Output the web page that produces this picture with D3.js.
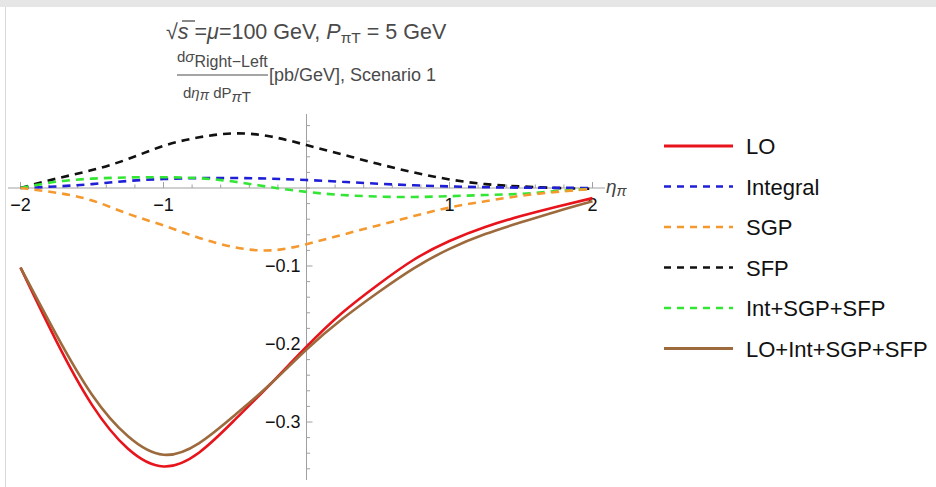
<!DOCTYPE html>
<html>
<head>
<meta charset="utf-8">
<script src="https://cdn.jsdelivr.net/npm/d3@7"></script>
<style>
  html, body { margin: 0; padding: 0; background: #fff; }
  svg { display: block; }
  text { font-family: "Liberation Sans", Arial, Helvetica, sans-serif; }
</style>
</head>
<body>
<svg id="chart" width="936" height="487"></svg>
<script>
// Rapidity grid (eta_pi)
const eta = [-2, -1.75, -1.5, -1.25, -1, -0.75, -0.5, -0.25, 0, 0.25, 0.5, 0.75, 1, 1.25, 1.5, 1.75, 2];

// dσ(Right−Left)/dη dP [pb/GeV] per contribution
const lo        = [-0.102, -0.196, -0.278, -0.334, -0.357, -0.339, -0.297, -0.251, -0.2035, -0.160, -0.124, -0.092, -0.068, -0.050, -0.036, -0.024, -0.013];
const integral  = [0, 0.002, 0.005, 0.009, 0.0115, 0.0127, 0.0128, 0.012, 0.0102, 0.008, 0.0055, 0.0035, 0.002, 0.001, 0.0005, 0.0002, 0];
const sgp       = [0, -0.006, -0.016, -0.033, -0.048, -0.064, -0.076, -0.080, -0.072, -0.060, -0.048, -0.036, -0.025, -0.017, -0.010, -0.005, -0.001];
const sfp       = [0, 0.012, 0.023, 0.037, 0.054, 0.065, 0.070, 0.066, 0.055, 0.043, 0.031, 0.020, 0.011, 0.005, 0.002, 0.000, -0.001];
const intSgpSfp = [0, 0.008, 0.012, 0.0135, 0.0138, 0.0125, 0.008, 0.001, -0.005, -0.009, -0.011, -0.0115, -0.0105, -0.009, -0.0075, -0.004, -0.001];
const total     = [-0.102, -0.188, -0.265, -0.318, -0.342, -0.327, -0.291, -0.251, -0.207, -0.168, -0.134, -0.103, -0.078, -0.059, -0.044, -0.030, -0.017];

const xTicks = [-2, -1, 1, 2];
const yTicks = [-0.1, -0.2, -0.3];

const seriesList = [
  { name: "LO",              values: lo,        color: "#e8141c", dash: null },
  { name: "Integral",        values: integral,  color: "#1f1fd6", dash: "8,6" },
  { name: "SGP",             values: sgp,       color: "#f5992e", dash: "8,6" },
  { name: "SFP",             values: sfp,       color: "#111111", dash: "8,6" },
  { name: "Int+SGP+SFP",     values: intSgpSfp, color: "#33e633", dash: "8,6" },
  { name: "LO+Int+SGP+SFP",  values: total,     color: "#9c6a3c", dash: null }
];
// draw order: dashed contributions first, then the solid curves
const drawOrder = [3, 1, 4, 2, 0, 5];

const svg = d3.select("#chart");

// notebook cell frame
svg.append("rect").attr("x", 0).attr("y", 0).attr("width", 936).attr("height", 7).attr("fill", "#e6e6e6");
svg.append("line").attr("x1", 5.5).attr("x2", 5.5).attr("y1", 7).attr("y2", 487).attr("stroke", "#d8d8d8").attr("stroke-width", 1);

const x = d3.scaleLinear().domain([-2, 2]).range([20.5, 592.5]);
const y = d3.scaleLinear().domain([0, -0.3]).range([188, 422]);

const axisColor = "#a0a0a0";

// x axis
const xAxis = svg.append("g").attr("transform", `translate(0,${y(0)})`);
xAxis.append("line").attr("x1", 8).attr("x2", 605).attr("stroke", axisColor).attr("stroke-width", 1);
const xMinor = d3.range(-20, 21, 2).map(v => v / 10);
xAxis.selectAll("line.tk").data(xMinor).join("line")
  .attr("class", "tk")
  .attr("x1", d => x(d)).attr("x2", d => x(d))
  .attr("y1", 0).attr("y2", d => (Math.abs(d - Math.round(d)) < 1e-9 ? -6 : -3.5))
  .attr("stroke", axisColor).attr("stroke-width", 1);
xAxis.selectAll("text").data(xTicks).join("text")
  .attr("x", d => x(d)).attr("y", 23)
  .attr("text-anchor", "middle")
  .attr("font-size", 18).attr("fill", "#111")
  .text(d => d3.format("d")(d).replace("-", "\u2212"));

// y axis
const yAxis = svg.append("g").attr("transform", `translate(${x(0)},0)`);
yAxis.append("line").attr("y1", 114).attr("y2", 480).attr("stroke", axisColor).attr("stroke-width", 1);
const yMinor = d3.range(-18, 5, 1).map(v => v / 50);
yAxis.selectAll("line.tk").data(yMinor).join("line")
  .attr("class", "tk")
  .attr("y1", d => y(d)).attr("y2", d => y(d))
  .attr("x1", 0).attr("x2", d => (Math.abs(d * 10 - Math.round(d * 10)) < 1e-9 && d !== 0 ? 6 : 3.5))
  .attr("stroke", axisColor).attr("stroke-width", 1);
yAxis.selectAll("text").data(yTicks).join("text")
  .attr("x", -6).attr("y", d => y(d) + 6)
  .attr("text-anchor", "end")
  .attr("font-size", 18).attr("fill", "#111")
  .text(d => d3.format(".1f")(d).replace("-", "\u2212"));

// axis label eta_pi
const etaLbl = svg.append("text").attr("x", 606).attr("y", 193).attr("font-size", 19).attr("fill", "#444");
etaLbl.append("tspan").attr("font-style", "italic").text("η");
etaLbl.append("tspan").attr("font-style", "italic").attr("font-size", 15).attr("dy", 3).text("π");

// curves
const line = d3.line()
  .x((d, i) => x(eta[i]))
  .y(d => y(d))
  .curve(d3.curveNatural);

const curves = svg.append("g");
drawOrder.forEach(k => {
  const s = seriesList[k];
  curves.append("path")
    .datum(s.values)
    .attr("d", line)
    .attr("fill", "none")
    .attr("stroke", s.color)
    .attr("stroke-width", 2.6)
    .attr("stroke-dasharray", s.dash)
    .attr("stroke-linecap", "butt");
});

// legend
const legend = svg.append("g");
seriesList.forEach((s, i) => {
  const base = 154 + i * 40.5;
  legend.append("line")
    .attr("x1", 664).attr("x2", 733).attr("y1", base - 8).attr("y2", base - 8)
    .attr("stroke", s.color).attr("stroke-width", s.dash ? 2.4 : 2.8)
    .attr("stroke-dasharray", s.dash ? "7,6" : null);
  legend.append("text")
    .attr("x", 746).attr("y", base)
    .attr("font-size", 22).attr("fill", "#111")
    .text(s.name);
});

// title line 1: sqrt(s) = mu = 100 GeV, P_piT = 5 GeV
const tColor = "#4a4a4a";
const t1 = svg.append("text").attr("x", 166).attr("y", 39).attr("font-size", 21.5).attr("fill", tColor);
t1.append("tspan").text("√");
t1.append("tspan").attr("font-style", "italic").text("s");
t1.append("tspan").text(" =");
t1.append("tspan").attr("font-style", "italic").text("μ");
t1.append("tspan").text("=100 GeV, ");
t1.append("tspan").attr("font-style", "italic").text("P");
t1.append("tspan").attr("font-size", 15.5).attr("dy", 4).text("πT");
t1.append("tspan").attr("dy", -4).text("  = 5 GeV");
// overline of the square root
svg.append("line").attr("x1", 182).attr("x2", 195).attr("y1", 21).attr("y2", 21).attr("stroke", tColor).attr("stroke-width", 1.3);

// title line 2: fraction dσ/dη dP
const num = svg.append("text").attr("x", 177).attr("y", 62).attr("font-size", 15).attr("fill", tColor);
num.append("tspan").text("d");
num.append("tspan").attr("font-style", "italic").text("σ");
num.append("tspan").attr("font-size", 16).attr("dy", 5).text("Right−Left");
svg.append("line").attr("x1", 177).attr("x2", 268).attr("y1", 75).attr("y2", 75).attr("stroke", tColor).attr("stroke-width", 1);
const den = svg.append("text").attr("x", 183).attr("y", 98).attr("font-size", 15).attr("fill", tColor);
den.append("tspan").text("d");
den.append("tspan").attr("font-style", "italic").text("η");
den.append("tspan").attr("font-style", "italic").attr("font-size", 14).attr("dy", 2).text("π");
den.append("tspan").attr("dy", -2).text(" dP");
den.append("tspan").attr("font-style", "italic").attr("font-size", 15).attr("dy", 4).text("π");
den.append("tspan").attr("font-size", 15).text("T");
svg.append("text").attr("x", 269).attr("y", 81).attr("font-size", 18).attr("fill", tColor)
  .text("[pb/GeV], Scenario 1");
</script>
</body>
</html>
